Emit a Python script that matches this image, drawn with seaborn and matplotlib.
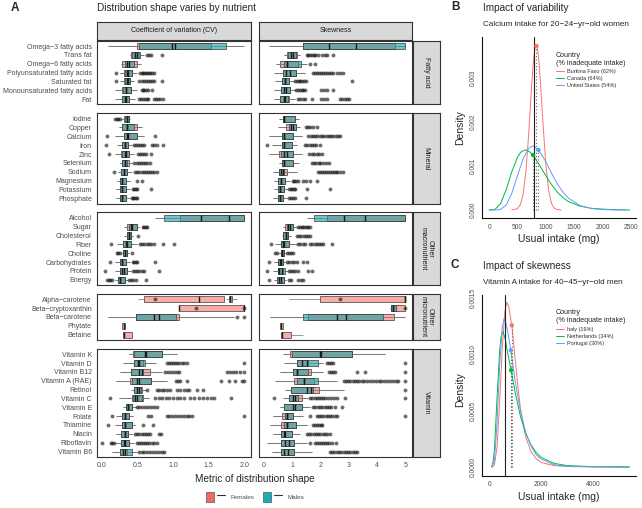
import numpy as np
import pandas as pd
import matplotlib
matplotlib.use("Agg")
import matplotlib.pyplot as plt
from matplotlib.patches import Patch
from matplotlib.lines import Line2D
from matplotlib.legend_handler import HandlerTuple
from matplotlib.colors import to_rgba
import seaborn as sns

sns.set_style("white")
plt.rcParams['font.family'] = ['Liberation Sans', 'DejaVu Sans']

# ---------------- Panel A data ----------------
group_names = ["Fatty acid", "Mineral", "Other\nmacronutrient", "Other\nmicronutrient", "Vitamin"]
fatty = ["Omega\u22123 fatty acids", "Trans fat", "Omega\u22126 fatty acids", "Polyunsaturated fatty acids",
         "Saturated fat", "Monounsaturated fatty acids", "Fat"]
mineral = ["Iodine", "Copper", "Calcium", "Iron", "Zinc", "Selenium", "Sodium", "Magnesium", "Potassium", "Phosphate"]
macro = ["Alcohol", "Sugar", "Cholesterol", "Fiber", "Choline", "Carbohydrates", "Protein", "Energy"]
micro = ["Alpha\u2212carotene", "Beta\u2212cryptoxanthin", "Beta\u2212carotene", "Phytate", "Betaine"]
vitamin = ["Vitamin K", "Vitamin D", "Vitamin B12", "Vitamin A (RAE)", "Retinol", "Vitamin C", "Vitamin E",
           "Folate", "Thiamine", "Niacin", "Riboflavin", "Vitamin B6"]
groups = [fatty, mineral, macro, micro, vitamin]
nutrients = fatty + mineral + macro + micro + vitamin

# (low whisker, Q1, median, Q3, high whisker)
cv_female = [
    (0.09, 0.50, 0.98, 1.53, 2.0), (0.40, 0.41, 0.47, 0.53, 0.60), (0.27, 0.29, 0.36, 0.49, 0.55),
    (0.26, 0.31, 0.36, 0.43, 0.50), (0.26, 0.31, 0.36, 0.40, 0.45), (0.18, 0.29, 0.34, 0.41, 0.50),
    (0.18, 0.28, 0.32, 0.39, 0.47),
    (0.28, 0.31, 0.35, 0.38, 0.40), (0.24, 0.29, 0.35, 0.49, 0.57), (0.18, 0.31, 0.36, 0.49, 0.60),
    (0.22, 0.29, 0.32, 0.37, 0.42), (0.18, 0.27, 0.33, 0.39, 0.46), (0.25, 0.29, 0.33, 0.38, 0.42),
    (0.23, 0.27, 0.31, 0.35, 0.42), (0.22, 0.25, 0.29, 0.34, 0.40), (0.20, 0.25, 0.29, 0.34, 0.40),
    (0.20, 0.25, 0.29, 0.34, 0.40),
    (0.75, 1.10, 1.78, 2.0, 2.0), (0.31, 0.36, 0.41, 0.49, 0.53), (0.31, 0.35, 0.38, 0.41, 0.44),
    (0.22, 0.30, 0.34, 0.41, 0.50), (0.28, 0.30, 0.33, 0.35, 0.39), (0.18, 0.25, 0.28, 0.34, 0.40),
    (0.18, 0.25, 0.28, 0.35, 0.41), (0.18, 0.23, 0.26, 0.32, 0.37),
    (0.51, 0.59, 1.37, 1.71, 1.71), (1.09, 1.09, 1.09, 2.0, 2.0), (0.09, 0.48, 0.80, 1.09, 1.85),
    (0.29, 0.29, 0.31, 0.33, 0.33), (0.30, 0.30, 0.31, 0.42, 0.42),
    (0.38, 0.44, 0.61, 0.85, 1.05), (0.30, 0.45, 0.51, 0.58, 0.76), (0.25, 0.41, 0.56, 0.68, 0.84),
    (0.20, 0.40, 0.52, 0.69, 0.91), (0.41, 0.46, 0.52, 0.57, 0.62), (0.24, 0.42, 0.47, 0.58, 0.66),
    (0.30, 0.34, 0.37, 0.43, 0.48), (0.20, 0.28, 0.32, 0.39, 0.44), (0.18, 0.28, 0.32, 0.42, 0.47),
    (0.20, 0.27, 0.32, 0.37, 0.42), (0.19, 0.27, 0.31, 0.39, 0.46), (0.15, 0.26, 0.30, 0.36, 0.50),
]
cv_male = [
    (0.09, 0.52, 1.03, 1.74, 2.0), (0.40, 0.43, 0.49, 0.54, 0.60), (0.27, 0.33, 0.38, 0.46, 0.55),
    (0.26, 0.32, 0.37, 0.43, 0.50), (0.26, 0.32, 0.37, 0.40, 0.45), (0.18, 0.30, 0.34, 0.41, 0.50),
    (0.18, 0.29, 0.34, 0.39, 0.47),
    (0.28, 0.32, 0.35, 0.39, 0.40), (0.24, 0.29, 0.36, 0.45, 0.57), (0.18, 0.31, 0.37, 0.49, 0.60),
    (0.22, 0.29, 0.33, 0.37, 0.42), (0.18, 0.28, 0.34, 0.39, 0.46), (0.25, 0.29, 0.33, 0.36, 0.42),
    (0.23, 0.27, 0.31, 0.35, 0.42), (0.22, 0.25, 0.29, 0.34, 0.40), (0.20, 0.25, 0.29, 0.34, 0.40),
    (0.20, 0.25, 0.29, 0.34, 0.40),
    (0.75, 0.88, 1.39, 2.0, 2.0), (0.31, 0.39, 0.43, 0.49, 0.53), (0.31, 0.35, 0.38, 0.41, 0.44),
    (0.22, 0.30, 0.35, 0.41, 0.50), (0.28, 0.30, 0.33, 0.35, 0.39), (0.18, 0.25, 0.28, 0.34, 0.40),
    (0.18, 0.25, 0.31, 0.35, 0.41), (0.18, 0.23, 0.26, 0.32, 0.37),
    (1.75, 1.78, 1.80, 1.83, 1.90), (2.0, 2.0, 2.0, 2.0, 2.0), (0.09, 0.48, 0.73, 1.04, 1.85),
    None, None,
    (0.38, 0.45, 0.62, 0.85, 1.05), (0.30, 0.45, 0.53, 0.61, 0.76), (0.25, 0.41, 0.52, 0.58, 0.84),
    (0.20, 0.43, 0.49, 0.69, 0.91), (0.41, 0.46, 0.50, 0.55, 0.62), (0.24, 0.44, 0.50, 0.56, 0.66),
    (0.30, 0.34, 0.37, 0.43, 0.48), (0.20, 0.28, 0.32, 0.39, 0.44), (0.18, 0.28, 0.32, 0.42, 0.47),
    (0.20, 0.27, 0.32, 0.37, 0.42), (0.19, 0.27, 0.33, 0.39, 0.46), (0.15, 0.26, 0.33, 0.42, 0.50),
]
cv_outliers = [
    [], [0.64, 0.66, 0.69, 0.85], [],
    [0.20, 0.54, 0.56, 0.58, 0.60, 0.62, 0.64, 0.66, 0.68, 0.70, 0.74],
    [0.20, 0.53, 0.56, 0.59, 0.62, 0.65, 0.68, 0.71, 0.74, 0.85],
    [0.56, 0.58, 0.60, 0.62, 0.65, 0.71],
    [0.53, 0.55, 0.58, 0.61, 0.63, 0.65, 0.74, 0.76, 0.79, 0.82, 0.86],
    [0.19, 0.21, 0.23, 0.25], [], [0.08, 0.75],
    [0.06, 0.45, 0.48, 0.51, 0.54, 0.57, 0.60, 0.70, 0.73, 0.77, 0.86],
    [0.10, 0.51, 0.54, 0.57, 0.60, 0.62, 0.69],
    [0.46, 0.49, 0.52, 0.55, 0.58, 0.61, 0.64, 0.68],
    [0.17, 0.47, 0.50, 0.53, 0.56, 0.59, 0.62, 0.65, 0.68, 0.71, 0.74, 0.77],
    [0.50, 0.57], [0.44, 0.46, 0.48, 0.50, 0.69], [0.42, 0.44, 0.46, 0.48, 0.50],
    [], [0.58, 0.60, 0.62, 0.64], [0.51],
    [0.13, 0.54, 0.57, 0.60, 0.63, 0.66, 0.69, 0.73, 0.86, 1.02],
    [0.21, 0.23, 0.25, 0.42], [0.11, 0.44, 0.46, 0.48, 0.50, 0.75],
    [0.05, 0.44, 0.47, 0.50, 0.53, 0.56, 0.60, 0.80],
    [0.08, 0.10, 0.12, 0.14, 0.38, 0.41, 0.44, 0.48, 0.62],
    [0.75], [1.32, 2.0], [1.90, 2.0], [], [],
    [], [0.91, 0.94, 0.97, 1.00, 1.03, 1.06, 1.09, 1.12, 1.15, 1.20, 2.0],
    [0.89, 0.93, 0.97, 1.01, 1.05, 1.09, 1.76, 1.80, 1.84, 1.88, 1.94, 2.0],
    [1.04, 1.07, 1.10, 1.20, 1.67, 1.78, 1.87, 1.97, 2.0],
    [0.64, 0.77, 0.80, 0.84, 0.88, 0.92, 0.96, 1.06, 1.10, 1.15, 1.19, 1.22, 1.34, 1.42],
    [0.12, 0.75, 0.80, 0.85, 0.90, 0.95, 1.00, 1.05, 1.10, 1.15, 1.24, 1.30, 1.36, 1.42, 1.48, 1.54, 1.58, 1.82],
    [0.49, 0.53, 0.57, 0.61, 0.65, 0.69, 0.73, 0.77],
    [0.15, 0.65, 0.69, 0.91, 0.95, 0.99, 1.03, 1.07, 1.11, 1.15, 1.19, 1.23, 1.27, 2.0],
    [0.09, 0.58, 0.72],
    [0.47, 0.50, 0.53, 0.56, 0.59, 0.62, 0.65, 0.68, 0.80, 0.83],
    [0.01, 0.13, 0.15, 0.17, 0.49, 0.52, 0.55, 0.58, 0.61, 0.64, 0.67, 0.70, 0.73, 0.77],
    [0.52, 0.56, 0.60, 0.64, 0.68, 0.72, 0.76, 0.80, 0.84, 0.87],
]

skew_female = [
    (0.20, 1.40, 2.32, 4.64, 5.0), (0.70, 0.84, 0.96, 1.17, 1.30), (0.45, 0.58, 0.84, 1.22, 1.52),
    (0.36, 0.67, 0.80, 1.14, 1.46), (0.40, 0.66, 0.75, 0.91, 1.10), (0.38, 0.60, 0.70, 0.93, 1.10),
    (0.35, 0.58, 0.70, 0.91, 1.12),
    (0.55, 0.67, 0.73, 1.11, 1.26), (0.50, 0.78, 0.96, 1.14, 1.30), (0.20, 0.63, 0.72, 1.05, 1.34),
    (0.30, 0.63, 0.70, 0.99, 1.17), (0.20, 0.55, 0.72, 1.02, 1.34), (0.55, 0.63, 0.72, 1.02, 1.24),
    (0.33, 0.54, 0.62, 0.81, 1.17), (0.36, 0.52, 0.60, 0.75, 0.93), (0.36, 0.52, 0.58, 0.72, 0.87),
    (0.33, 0.52, 0.58, 0.69, 0.81),
    (1.52, 2.23, 3.58, 5.0, 5.0), (0.69, 0.75, 0.87, 1.02, 1.17), (0.63, 0.69, 0.79, 0.87, 0.96),
    (0.40, 0.60, 0.67, 0.91, 1.17), (0.55, 0.60, 0.66, 0.72, 0.75), (0.36, 0.52, 0.58, 0.69, 0.75),
    (0.33, 0.49, 0.55, 0.69, 0.87), (0.36, 0.48, 0.55, 0.73, 0.79),
    (0.89, 1.99, 5.0, 5.0, 5.0), (4.45, 4.51, 4.58, 5.0, 5.0), (0.22, 1.55, 2.91, 4.61, 5.0),
    (0.58, 0.58, 0.62, 0.67, 0.67), (0.60, 0.60, 0.64, 0.96, 1.38),
    (0.69, 0.93, 1.99, 3.13, 4.29), (0.73, 1.17, 1.37, 1.58, 2.11), (0.58, 1.05, 1.19, 1.66, 2.11),
    (0.40, 1.07, 1.43, 1.79, 2.58), (0.75, 0.98, 1.66, 1.94, 2.82), (0.69, 0.91, 1.12, 1.34, 1.58),
    (0.58, 0.73, 1.05, 1.35, 1.64), (0.34, 0.64, 0.81, 1.05, 1.40), (0.22, 0.61, 0.81, 1.14, 1.52),
    (0.34, 0.60, 0.70, 0.99, 1.29), (0.11, 0.62, 0.75, 1.07, 1.52), (0.28, 0.60, 0.73, 1.07, 1.70),
]
skew_male = [
    (0.20, 1.40, 3.26, 5.0, 5.0), (0.70, 0.86, 1.02, 1.15, 1.30), (0.45, 0.70, 0.84, 1.32, 1.52),
    (0.36, 0.67, 0.92, 1.14, 1.46), (0.40, 0.66, 0.75, 0.91, 1.10), (0.38, 0.62, 0.80, 0.93, 1.10),
    (0.35, 0.58, 0.76, 0.85, 1.12),
    (0.55, 0.67, 0.73, 1.11, 1.26), (0.50, 0.90, 1.02, 1.14, 1.30), (0.20, 0.63, 0.72, 1.05, 1.34),
    (0.30, 0.63, 0.70, 0.99, 1.17), (0.20, 0.60, 0.84, 1.02, 1.34), (0.55, 0.63, 0.72, 1.02, 1.24),
    (0.33, 0.54, 0.68, 0.70, 1.17), (0.36, 0.52, 0.60, 0.75, 0.93), (0.36, 0.52, 0.58, 0.72, 0.87),
    (0.33, 0.52, 0.58, 0.69, 0.81),
    (1.52, 1.78, 2.82, 5.0, 5.0), (0.69, 0.82, 0.93, 1.02, 1.17), (0.63, 0.69, 0.79, 0.87, 0.96),
    (0.40, 0.60, 0.72, 0.91, 1.17), (0.55, 0.60, 0.66, 0.72, 0.75), (0.36, 0.52, 0.62, 0.69, 0.75),
    (0.33, 0.49, 0.63, 0.75, 0.87), (0.36, 0.48, 0.60, 0.73, 0.79),
    (5.0, 5.0, 5.0, 5.0, 5.0), (4.45, 4.51, 4.58, 4.66, 4.70), (0.22, 1.38, 2.58, 4.23, 5.0),
    None, None,
    (0.69, 0.99, 2.02, 3.13, 4.29), (0.73, 1.17, 1.52, 1.91, 2.11), (0.58, 1.05, 1.19, 1.58, 2.11),
    (0.40, 1.19, 1.43, 1.91, 2.58), (0.75, 0.98, 1.54, 1.75, 2.82), (0.69, 0.91, 1.05, 1.22, 1.58),
    (0.58, 0.73, 1.11, 1.35, 1.64), (0.34, 0.75, 0.81, 1.05, 1.40), (0.22, 0.73, 0.81, 1.14, 1.52),
    (0.34, 0.60, 0.75, 0.99, 1.29), (0.11, 0.62, 0.89, 1.07, 1.52), (0.28, 0.60, 0.87, 1.07, 1.70),
]
skew_outliers = [
    [], [1.52, 1.58, 1.64, 1.70, 1.76, 1.82, 1.93, 2.05, 2.15, 2.25, 2.46], [1.64, 1.81],
    [1.75, 1.82, 1.89, 1.96, 2.03, 2.10, 2.17, 2.24, 2.31, 2.38, 2.46, 2.58, 2.68, 2.79],
    [1.12, 1.18, 1.24, 1.30, 1.36, 1.42, 1.49, 3.13],
    [1.13, 1.20, 1.27, 1.34, 1.40, 1.46, 2.03, 2.13, 2.23, 2.46],
    [1.22, 1.30, 1.38, 1.46, 1.69, 2.03, 2.13, 2.23, 2.70, 2.78, 2.86, 2.94, 3.0],
    [], [1.50, 1.57, 1.64, 1.73, 1.90],
    [1.58, 1.66, 1.74, 1.82, 1.90, 1.98, 2.06, 2.14, 2.22, 2.30, 2.38, 2.46, 2.54, 2.62, 2.70],
    [0.10, 1.46, 1.54, 1.62, 1.70, 1.78, 1.86, 1.99],
    [1.61, 1.70, 1.79, 1.88, 1.96, 2.05],
    [1.70, 1.78, 1.86, 1.94, 1.99, 2.11, 2.20, 2.32],
    [1.91, 1.98, 2.05, 2.12, 2.19, 2.26, 2.33, 2.40, 2.47, 2.54, 2.60, 2.70, 2.81],
    [1.02, 1.08, 1.14, 1.22, 1.38, 1.50, 1.64, 1.90],
    [0.91, 0.96, 1.01, 1.06, 1.11, 1.52, 2.34],
    [0.88, 0.95, 1.02, 1.09, 1.50],
    [], [1.22, 1.28, 1.34, 1.40, 1.46, 1.52, 1.58, 1.64],
    [1.17, 1.25, 1.33, 1.41, 1.49, 1.57, 1.64],
    [0.25, 1.22, 1.30, 1.38, 1.46, 1.64, 1.72, 1.80, 1.88, 1.96, 2.04, 2.11, 2.43],
    [0.40, 0.46, 0.81, 0.88, 0.95, 1.05],
    [0.20, 0.81, 0.90, 0.99, 1.08, 1.17, 1.38, 1.52],
    [0.10, 0.91, 0.98, 1.05, 1.12, 1.20, 1.58, 1.70],
    [0.20, 0.88, 0.96, 1.22, 1.31, 1.40],
    [2.70], [5.0], [], [], [],
    [], [2.25, 2.32, 2.39, 2.46, 5.0],
    [2.32, 2.38, 2.45, 2.52, 3.29, 3.58, 5.0],
    [2.82, 2.90, 2.98, 3.06, 3.14, 3.22, 3.30, 3.38, 3.46, 3.54, 3.64, 3.76, 3.86, 3.96, 4.06,
     4.16, 4.26, 4.36, 4.46, 4.56, 4.66, 4.76, 5.0],
    [5.0],
    [0.38, 1.64, 1.72, 1.80, 1.88, 1.96, 2.04, 2.11, 2.17, 2.27, 2.37, 2.47, 2.58, 2.87, 5.0],
    [1.75, 1.83, 1.91, 1.99, 2.07, 2.15, 2.23, 2.31, 2.39, 2.52, 2.78],
    [1.64, 1.87, 1.95, 2.03, 2.11, 2.19, 2.27, 2.35, 2.43, 2.51, 2.58, 5.0],
    [1.73, 1.80, 1.87, 1.94, 2.01, 2.05],
    [1.52, 1.60, 1.68, 1.76, 1.84, 1.92, 2.00, 2.08, 2.16, 2.24, 2.34],
    [1.64, 1.83, 1.90, 1.97, 2.04, 2.11, 2.18, 2.25, 2.32, 2.40, 2.56],
    [2.34, 2.42, 2.50, 2.58, 2.66, 2.74, 2.82, 2.90, 2.98, 3.06, 3.14, 3.22, 3.29],
]
metric_titles = ["Coefficient of variation (CV)", "Skewness"]
sex_labels = ["Females", "Males"]

# ---------------- Panel B data ----------------
burkina_x = [400, 500, 550, 600, 650, 700, 750, 780, 800, 815, 830, 845, 860, 880, 900, 950, 1000, 1050, 1100, 1150, 1200, 1270]
burkina_d = [0.0, 0.00003, 0.00012, 0.00036, 0.00089, 0.00177, 0.00283, 0.00336, 0.00361, 0.00372, 0.00376,
             0.00372, 0.00361, 0.00336, 0.00302, 0.00198, 0.00104, 0.00044, 0.000145, 0.00004, 0.00001, 0.0]
canada_x = [0, 100, 200, 300, 400, 500, 560, 640, 720, 800, 900, 1000, 1100, 1200, 1300, 1400, 1600, 1800, 2000, 2200, 2480]
canada_d = [0.0, 0.00001, 0.00014, 0.00046, 0.00087, 0.0012, 0.00132, 0.00137, 0.00132, 0.0012, 0.000995, 0.00078,
            0.00058, 0.00041, 0.000285, 0.00019, 0.00009, 0.00004, 0.00002, 0.000008, 0.0]
us_x = [0, 100, 200, 300, 400, 500, 600, 700, 770, 870, 1000, 1100, 1200, 1300, 1400, 1600, 1800, 2000, 2200, 2410]
us_d = [0.0, 0.0, 0.000014, 0.00011, 0.00038, 0.00078, 0.00117, 0.00141, 0.00146, 0.00137, 0.0011, 0.00084,
        0.0006, 0.00041, 0.00027, 0.0001, 0.000034, 0.00001, 0.000003, 0.0]
b_countries = ["Burkina Faso (62%)", "Canada (64%)", "United States (54%)"]
b_dot_x = [835, 776, 870]
b_dot_d = [0.003736, 0.001253, 0.001367]
b_ear = 800

# ---------------- Panel C data ----------------
italy_x = [130, 200, 300, 400, 500, 600, 675, 750, 870, 1000, 1100, 1200, 1400, 1600, 1800, 2000, 2500, 3000, 4000, 5400]
italy_d = [0.0, 0.00002, 0.00018, 0.00058, 0.00105, 0.00138, 0.00146, 0.00142, 0.001256, 0.00095, 0.00072, 0.00052,
           0.00027, 0.00014, 0.000075, 0.00004, 0.000012, 0.000004, 0.000001, 0.0]
neth_x = [90, 150, 200, 300, 400, 450, 520, 600, 700, 843, 1000, 1200, 1400, 1600, 1800, 2000, 2500, 3000, 4000, 5400]
neth_d = [0.0, 0.00005, 0.00016, 0.00062, 0.00103, 0.00115, 0.0012, 0.00115, 0.00102, 0.000857, 0.00066, 0.00045,
          0.0003, 0.0002, 0.00013, 0.000085, 0.000032, 0.000013, 0.000003, 0.0]
port_x = [110, 200, 300, 400, 500, 571, 650, 750, 831, 1000, 1200, 1400, 1600, 1800, 2000, 2500, 3000, 4000, 5400]
port_d = [0.0, 0.00006, 0.0004, 0.0009, 0.00124, 0.001315, 0.00127, 0.00115, 0.001034, 0.00076, 0.0005, 0.00031,
          0.00019, 0.00011, 0.00007, 0.00002, 0.000007, 0.000002, 0.0]
c_countries = ["Italy (19%)", "Netherlands (34%)", "Portugal (30%)"]
c_dot_x = [870, 843, 831]
c_dot_d = [0.001256, 0.000857, 0.001034]
c_ear = 625

# ---------------- build tables ----------------
rows = []
for metric, fem, mal in (("cv", cv_female, cv_male), ("skew", skew_female, skew_male)):
    for i, name in enumerate(nutrients):
        for sex, st in ((sex_labels[0], fem[i]), (sex_labels[1], mal[i])):
            if st is None:
                continue
            for v in st:
                rows.append((metric, name, sex, v))
box_df = pd.DataFrame(rows, columns=["metric", "nutrient", "sex", "value"])
orows = []
for metric, outs in (("cv", cv_outliers), ("skew", skew_outliers)):
    for i, name in enumerate(nutrients):
        for v in outs[i]:
            orows.append((metric, name, v))
out_df = pd.DataFrame(orows, columns=["metric", "nutrient", "value"])

W, H = 642, 508
fig = plt.figure(figsize=(W / 100, H / 100), dpi=100)


def add_ax(x0, y0, x1, y1):
    return fig.add_axes([x0 / W, 1 - y1 / H, (x1 - x0) / W, (y1 - y0) / H])


TICK_C = "#4D4D4D"
EDGE_C = "#333333"
pal = {"Females": "#F8766D", "Males": "#139EA2"}
cols_x = [(96.7, 250.7), (259.3, 412.3)]
xlims = [(-0.07, 2.09), (-0.155, 5.25)]
xticks = [([0, 0.5, 1, 1.5, 2], ["0.0", "0.5", "1.0", "1.5", "2.0"]), ([0, 1, 2, 3, 4, 5], ["0", "1", "2", "3", "4", "5"])]
unit, gap, top = 8.85, 8.9, 40.7
y0 = top
row_y = []
for g in groups:
    h = (len(g) + 0.2) * unit
    row_y.append((y0, y0 + h))
    y0 += h + gap

for r, members in enumerate(groups):
    for c, metric in enumerate(["cv", "skew"]):
        ax = add_ax(cols_x[c][0], row_y[r][0], cols_x[c][1], row_y[r][1])
        sub = box_df[(box_df.metric == metric) & (box_df.nutrient.isin(members))]
        sns.boxplot(data=sub, x="value", y="nutrient", hue="sex", order=members, hue_order=sex_labels,
                    palette=pal, saturation=1, dodge=False, whis=(0, 100), width=0.68, linewidth=0.5,
                    linecolor="#3A3A3A", fliersize=0, legend=False, ax=ax,
                    medianprops=dict(color="#1A1A1A", linewidth=1.0),
                    whiskerprops=dict(color="#6E6E6E", linewidth=0.5),
                    capprops=dict(linewidth=0))
        for p in ax.patches:
            p.set_facecolor(to_rgba(p.get_facecolor(), 0.6))
        osub = out_df[(out_df.metric == metric) & (out_df.nutrient.isin(members))]
        sns.stripplot(data=osub, x="value", y="nutrient", order=members, jitter=False, color="#1E1E1E",
                      alpha=0.65, size=2.8, linewidth=0, ax=ax)
        ax.set_xlim(*xlims[c])
        ax.set_ylim(len(members) - 0.4, -0.6)
        ax.set_xlabel("")
        ax.set_ylabel("")
        ax.set_xticks(xticks[c][0])
        ax.set_xticklabels(xticks[c][1])
        ax.tick_params(axis="both", length=2, width=0.5, color=EDGE_C, labelsize=5.0,
                       labelcolor=TICK_C, pad=1.5)
        if c == 1:
            ax.tick_params(axis="y", left=False, labelleft=False)
        if r != len(groups) - 1:
            ax.tick_params(axis="x", bottom=False, labelbottom=False)
        for s in ax.spines.values():
            s.set_color(EDGE_C)
            s.set_linewidth(0.8)
        ax.grid(False)
    # right strip
    sax = add_ax(413.0, row_y[r][0], 439.5, row_y[r][1])
    sax.set_facecolor("#D9D9D9")
    sax.set_xticks([]); sax.set_yticks([])
    for s in sax.spines.values():
        s.set_color(EDGE_C); s.set_linewidth(0.8)
    sax.text(0.5, 0.5, group_names[r], rotation=-90, ha="center", va="center", fontsize=5,
             color="#1A1A1A", transform=sax.transAxes, linespacing=1.0)

for c in range(2):
    sax = add_ax(cols_x[c][0], 21.7, cols_x[c][1], 40.2)
    sax.set_facecolor("#D9D9D9")
    sax.set_xticks([]); sax.set_yticks([])
    for s in sax.spines.values():
        s.set_color(EDGE_C); s.set_linewidth(0.8)
    sax.text(0.5, 0.5, metric_titles[c], ha="center", va="center", fontsize=5, color="#1A1A1A",
             transform=sax.transAxes)

fig.text(15 / W, 1 - 8 / H, "A", fontsize=8.5, fontweight="bold", ha="center", va="center")
fig.text(97 / W, 1 - 8 / H, "Distribution shape varies by nutrient", fontsize=7.2, ha="left", va="center")
fig.text(255 / W, 1 - 479 / H, "Metric of distribution shape", fontsize=7.2, ha="center", va="center")

handles = [(Patch(facecolor="#F06A64", edgecolor="#555555", linewidth=0.5), Line2D([], [], color="#333333", lw=0.8)),
           (Patch(facecolor="#17B0B3", edgecolor="#555555", linewidth=0.5), Line2D([], [], color="#333333", lw=0.8))]
fig.legend(handles, sex_labels, loc="center", bbox_to_anchor=(255 / W, 1 - 497 / H), ncol=2, frameon=False,
           fontsize=4.5, handlelength=3.0, handleheight=2.2, columnspacing=1.4, handletextpad=0.9,
           handler_map={tuple: HandlerTuple(ndivide=None)}, labelcolor=TICK_C)

# ---------------- Panels B & C ----------------
line_pal = ["#F8766D", "#00BA38", "#619CFF"]


def density_panel(box, xs, ds, names, dot_x, dot_d, ear, xlim, ylim, xt, yt, ytl, letter, title, subtitle, ytitle_y):
    x0, y0, x1, y1 = box
    ax = add_ax(x0, y0, x1, y1)
    recs = []
    for name, xv, dv in zip(names, xs, ds):
        for a, b in zip(xv, dv):
            recs.append((name, a, b))
    df = pd.DataFrame(recs, columns=["country", "x", "d"])
    pal_d = dict(zip(names, line_pal))
    sns.lineplot(data=df, x="x", y="d", hue="country", hue_order=names, palette=pal_d, linewidth=0.7,
                 estimator=None, sort=False, ax=ax)
    ax.vlines(dot_x, 0, dot_d, colors="#666666", linestyles=(0, (1, 2)), linewidth=0.8)
    ax.axvline(ear, color="#222222", linewidth=0.8)
    dots = pd.DataFrame({"country": names, "x": dot_x, "d": dot_d})
    sns.scatterplot(data=dots, x="x", y="d", hue="country", hue_order=names, palette=pal_d, s=10,
                    linewidth=0, legend=False, ax=ax, zorder=5)
    ax.set_xlim(*xlim)
    ax.set_ylim(*ylim)
    ax.set_xticks(xt)
    ax.set_yticks(yt)
    ax.set_yticklabels(ytl, rotation=90, va="center")
    ax.set_xlabel("")
    ax.set_ylabel("")
    ax.tick_params(axis="both", length=2.5, width=0.5, color="#222222", labelsize=4.8, labelcolor=TICK_C, pad=1.5)
    for s in ("top", "right"):
        ax.spines[s].set_visible(False)
    for s in ("left", "bottom"):
        ax.spines[s].set_color("#111111")
        ax.spines[s].set_linewidth(0.8)
    h, l = ax.get_legend_handles_labels()
    leg = ax.legend(h, l, title="Country\n(% inadequate intake)", loc="upper left",
                    bbox_to_anchor=((556 - x0) / (x1 - x0), (y1 - (y0 + 14.5)) / (y1 - y0)),
                    frameon=False, fontsize=4.0, title_fontsize=5.1, alignment="left",
                    handlelength=1.4, handletextpad=0.6, labelspacing=0.4, borderpad=0, borderaxespad=0)
    for t in leg.get_texts():
        t.set_color("#333333")
    for ln in leg.get_lines():
        ln.set_linewidth(0.7)
    fig.text(455 / W, 1 - (y0 - 30) / H, letter, fontsize=8.5, fontweight="bold", ha="center", va="center")
    fig.text(483 / W, 1 - (y0 - 29) / H, title, fontsize=7.2, ha="left", va="center")
    fig.text(483 / W, 1 - (y0 - 12) / H, subtitle, fontsize=5.9, ha="left", va="center")
    fig.text(460 / W, 1 - ytitle_y / H, "Density", fontsize=7.5, rotation=90, ha="center", va="center")
    fig.text((x0 + x1) / 2 / W, 1 - (y1 + 21.5) / H, "Usual intake (mg)", fontsize=7.5, ha="center", va="center")
    return ax


density_panel((482.3, 37.0, 636.0, 218.0), [burkina_x, canada_x, us_x], [burkina_d, canada_d, us_d],
              b_countries, b_dot_x, b_dot_d, b_ear, (-120, 2590), (-0.000182, 0.00394),
              [0, 500, 1000, 1500, 2000, 2500], [0, 0.001, 0.002, 0.003], ["0.000", "0.001", "0.002", "0.003"],
              "B", "Impact of variability", "Calcium intake for 20\u221224\u2212yr\u2212old women", 128)
density_panel((482.3, 295.0, 636.0, 475.5), [italy_x, neth_x, port_x], [italy_d, neth_d, port_d],
              c_countries, c_dot_x, c_dot_d, c_ear, (-270, 5660), (-0.0000753, 0.001524),
              [0, 2000, 4000], [0, 0.0005, 0.001, 0.0015], ["0.0000", "0.0005", "0.0010", "0.0015"],
              "C", "Impact of skewness", "Vitamin A intake for 40\u221245\u2212yr\u2212old men", 390)

fig.savefig("out.png", dpi=100)
